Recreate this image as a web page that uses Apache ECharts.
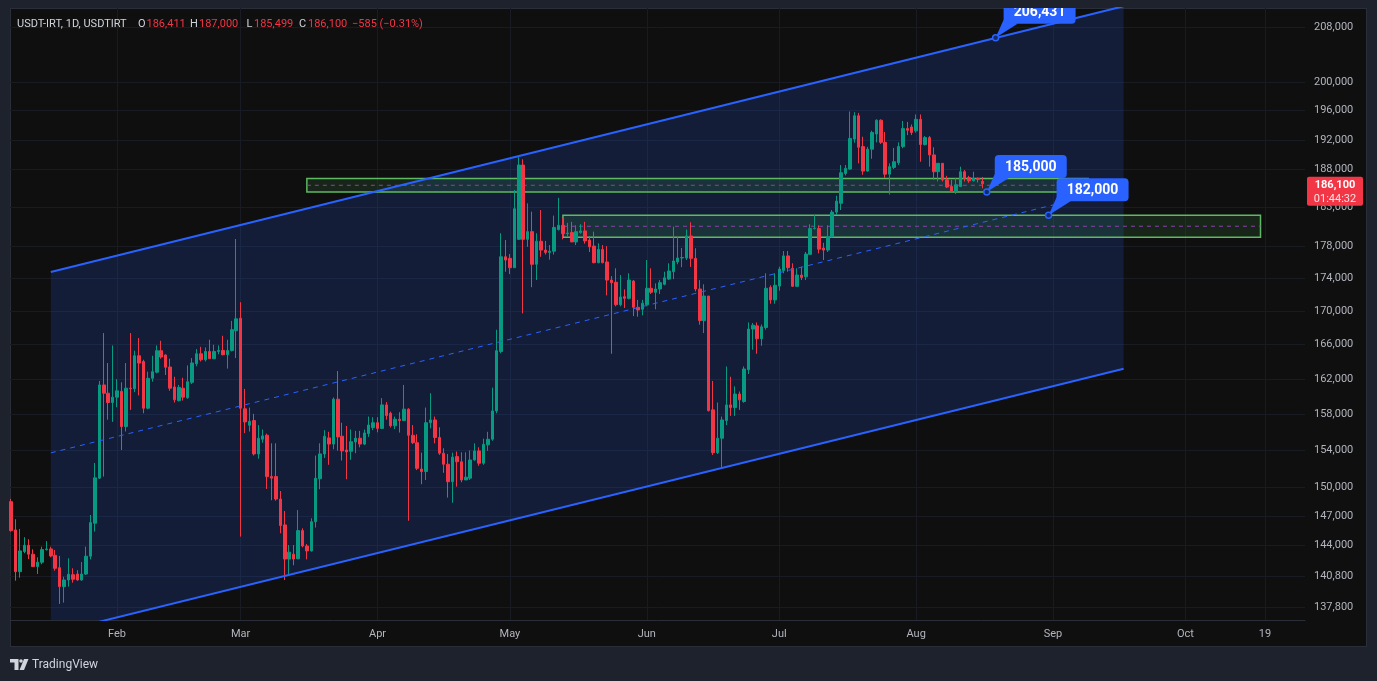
<!DOCTYPE html>
<html><head><meta charset="utf-8">
<script src="https://cdn.jsdelivr.net/npm/echarts@6/dist/echarts.min.js"></script>
<style>
html,body{margin:0;padding:0;background:#1e222d;width:1377px;height:681px;overflow:hidden;}
#panel{position:absolute;left:10px;top:8px;width:1357px;height:639px;background:#0f0f0f;box-sizing:border-box;border:1px solid #2a2e39;}
#chart{position:absolute;left:0;top:0;width:1377px;height:681px;}
</style></head><body>
<div id="panel"></div><div id="chart"></div>
<script>
// ---------------- data ----------------
const startDate = '2025-01-08';   // first daily candle
const openP = [
148500,145550,141300,143330,143970,143060,141810,142250,143530,143600,142950,141700,139810,140470,141000,141060,140470,141060,142860,146250,151000,161330,160390,159330,
159940,160600,156640,160960,160900,164710,164040,158690,162090,162800,165300,164800,163400,161100,159550,160960,159870,161630,163780,164940,164240,165210,164360,165210,165330,164830,165330,167660,
169160,158620,156780,157300,153620,155230,155670,151170,151170,148780,146070,142570,143060,142600,145480,143900,143400,146400,150940,153620,155380,154700,159710,155560,154050,153910,154930,155340,154700,155850,156520,
157060,156430,159060,158120,156720,157450,157300,158580,155670,154850,151980,151710,157060,157370,155420,153700,152500,150620,153330,152770,150810,151000,152960,153950,152610,154620,155230,158380,165210,176700,
176500,175330,178900,188590,178900,179880,175760,178660,177540,177250,177400,180150,180690,179620,179760,178570,179760,179970,178810,178040,175960,177620,176050,173800,173530,170790,171760,171560,173680,170470,170230,
170790,172790,172300,172700,173280,173920,174830,176050,176550,176550,179330,176500,172700,168870,171840,158500,153760,155340,157300,159060,158760,160290,159440,163090,167860,168240,166710,168040,172900,171370,
173060,174990,176810,175260,173030,174420,174210,177000,180270,180270,177800,177540,179230,182390,183540,187460,188050,192100,195300,191080,187780,190720,192790,194680,191650,187370,188270,188900,191080,193530,193750,
193220,194810,191350,192300,189950,187690,188820,186620,185740,185090,185740,187690,186930,186490,186800,186411];
const highP = [
148800,146660,145650,144800,144600,143560,142750,143830,144400,143830,143500,142890,140800,142650,141640,141450,142270,143830,147100,152640,161790,167380,163860,165920,
162000,161630,163860,167380,165300,166790,164240,162860,164710,165920,166470,164880,164360,162270,161330,162150,163580,164440,165490,165760,165680,166590,166000,165920,167060,166590,168840,178940,
171090,160880,158760,158050,156800,156310,155850,154780,154780,149630,147520,144000,144000,147620,145720,144100,146760,153440,154780,156230,156050,159900,162930,157060,156700,156310,156150,156150,156310,157750,157680,
157680,159830,159380,158310,157750,158240,161330,158690,156800,155780,153760,158760,160390,157750,156550,154240,153620,153760,153880,153800,153800,154000,154780,154350,155290,156050,161020,167780,179670,178810,
177040,185290,189630,189360,183530,182450,179670,182660,178700,178170,181940,184250,181590,181000,181140,180690,180830,181140,179330,179880,178390,178170,178040,174290,175260,174420,172660,174640,173800,171370,171370,
176290,175260,173390,173800,174830,175880,180520,179230,177800,180150,181080,177770,173800,173280,171840,161790,159330,157750,163460,162270,161170,160580,163460,168650,168580,168650,168400,174640,173160,174640,
175460,177420,177420,175880,175260,175460,177300,180830,182020,180690,178460,180690,182660,184520,188590,188590,195900,195800,195700,192420,191040,193240,194810,194810,193080,188820,190900,191650,194580,194450,194100,
195480,195480,192510,192510,190980,188820,188820,187150,186620,186840,188370,187920,187150,187690,186930,187000];
const lowP = [
145380,140400,140700,143170,142570,141800,141070,142050,143430,142750,141400,138100,138230,139810,140200,140400,140400,140970,142540,145380,150900,151170,157400,157150,
158800,154050,156080,158500,160500,160130,158120,158570,161700,162670,164360,162470,160660,159330,159440,159550,159750,161440,163480,164040,164040,164360,164320,164880,164760,163210,165210,164440,
144860,155900,156080,153440,153100,154850,149850,148650,148600,145210,140470,140900,141950,142570,143770,142540,143330,145800,149820,153180,152440,154130,153980,152900,150880,152980,153700,154340,154600,155490,156230,
156000,156360,157400,156530,156360,155970,157300,146500,154700,151870,150350,150800,156430,154780,153510,151580,148930,148390,150090,150560,150810,150810,152900,152330,152440,153950,155060,158120,165000,174830,
174540,175330,178810,169740,177950,172920,173800,176700,176980,176330,176980,180020,178900,179230,178570,178170,179620,178350,177300,175880,175880,175880,171920,164940,170590,170590,170390,171430,169410,169340,169500,
170590,172090,170230,172090,173160,173800,173920,175760,175400,176290,175430,172400,168380,167380,158310,153510,153610,152060,156800,157820,157820,158500,159300,162590,165410,164940,165880,167780,170900,170900,
172500,174640,174830,172950,172950,173800,173800,176980,180150,177130,176290,177300,179150,182020,182660,187200,187970,191600,188820,187290,187700,189430,191650,191430,186870,184680,188060,188590,190850,192640,192640,
192970,189030,191220,188370,186620,186400,186400,185530,184880,184760,185660,186400,186230,186400,186270,185499];
const closeP = [
145480,141300,143400,143970,143060,141810,142250,143530,143600,142890,141640,139810,140470,141040,140540,140470,141060,142860,146310,151030,161330,160390,159330,159940,
160660,156640,160960,160900,164710,163850,158690,162090,162860,165300,164560,163370,160960,159630,161050,159940,161700,163860,164940,164240,165210,164360,165210,165330,164830,165330,167780,169080,
158690,157150,157220,153620,155340,155600,151170,151000,148780,146000,142570,143270,142570,145480,143900,143400,146400,150990,153620,155560,154700,159710,155490,153950,153840,154960,155340,154700,155930,156800,157060,
156430,159060,157860,156720,157450,157300,158580,155670,154850,152060,151710,157060,157370,155420,153700,152500,150620,153270,152770,150810,151100,152960,153950,152610,154670,155230,158380,165300,176700,176290,
175330,182830,188590,178900,179880,175760,178660,177540,177250,177400,180420,180690,179620,179700,178570,179880,179970,178700,177950,175960,177620,175960,173800,173480,170790,171720,171560,173800,170470,170150,170970,
172790,172300,172700,173480,174080,174920,176170,176550,176600,179330,176500,172700,168870,171840,158420,153760,155340,157370,159060,158760,160290,159630,163170,167860,168320,166710,168120,172790,171370,173160,
175160,176810,175330,173030,174420,174130,177040,180270,180300,177660,177540,179230,182390,183820,187560,188150,192190,195300,190980,187780,190720,193000,194680,191650,187370,188370,189030,191080,193530,193300,193000,
194810,191350,192300,189950,187690,188820,186620,185660,185090,185960,187690,186800,186490,186800,186685,186100];

// price-axis and time-axis ticks
const priceTicks = [137800,140800,144000,147000,150000,154000,158000,162000,166000,170000,174000,178000,183000,188000,192000,196000,200000,208000];
const timeTickDates = ['2025-02-01','2025-03-01','2025-04-01','2025-05-01','2025-06-01','2025-07-01','2025-08-01','2025-09-01','2025-10-01','2025-10-19'];
const timeTickLabels = ['Feb','Mar','Apr','May','Jun','Jul','Aug','Sep','Oct','19'];

// parallel channel (drawn with its two anchors in date/price)
const channelDates = ['2025-01-17','2025-09-17'];
const channelUpper = [174800, 211100];
const channelMid   = [153735, 185605];
const channelLower = [135210, 163190];

// rectangles (zones)
const zoneStart  = ['2025-03-16','2025-05-13'];
const zoneEnd    = ['2025-09-09','2025-10-18'];
const zoneTop    = [186800, 182000];
const zoneBottom = [185000, 179150];

// price notes
const noteDates  = ['2025-08-19','2025-08-17','2025-08-31'];
const notePrices = [206431, 185000, 182000];
const noteLabels = ['206,431','185,000','182,000'];

const countdown = '01:44:32';

// ---------------- chart ----------------
const DAY = 86400000;
const t = s => Date.parse(s + 'T00:00:00Z');
const t0 = t(startDate);
const candles = openP.map((o, i) => [t0 + i * DAY, o, closeP[i], lowP[i], highP[i]]);
const feb1 = t('2025-02-01');
const xMin = feb1 - 24.24 * DAY, xMax = feb1 + 269.08 * DAY;
const tickTimes = timeTickDates.map(t);
const tickLabelMap = {};
tickTimes.forEach((v, i) => tickLabelMap[v] = timeTickLabels[i]);
const fmt = v => v.toLocaleString('en-US');

const FONT = 'Roboto, "Liberation Sans", Arial, sans-serif';
const AXC = '#b2b5be';
const GRIDC = '#181b22';

const chart = echarts.init(document.getElementById('chart'), null, {width:1377, height:681});

const lastT = candles[candles.length - 1][0];
const lastClose = closeP[closeP.length - 1];

const header = [
  {x:17, text:'USDT-IRT, 1D, USDTIRT', c:'#d1d4dc'},
  {x:138, text:'O', c:'#d1d4dc'}, {x:146.5, text:fmt(openP[openP.length-1]), c:'#f23645'},
  {x:190, text:'H', c:'#d1d4dc'}, {x:199, text:fmt(highP[highP.length-1]), c:'#f23645'},
  {x:246.5, text:'L', c:'#d1d4dc'}, {x:254, text:fmt(lowP[lowP.length-1]), c:'#f23645'},
  {x:299, text:'C', c:'#d1d4dc'}, {x:308, text:fmt(lastClose), c:'#f23645'},
  {x:352, text:'\u2212585 (\u22120.31%)', c:'#f23645'}
];

const option = {
  backgroundColor: 'transparent',
  animation: false,
  textStyle: {fontFamily: FONT},
  grid: {left: 10, right: 72, top: 8, bottom: 61, containLabel: false},
  xAxis: {
    type: 'value', min: xMin, max: xMax, scale: true,
    axisLine: {show: true, onZero: false, lineStyle: {color: '#2a2e39'}},
    axisTick: {show: false, customValues: tickTimes},
    splitLine: {show: true, lineStyle: {color: GRIDC, width: 1}},
    axisLabel: {customValues: tickTimes, color: AXC, fontSize: 11, fontFamily: FONT, margin: 9,
      formatter: v => tickLabelMap[v] || ''}
  },
  yAxis: {
    type: 'log', logBase: 10, position: 'right', min: 136535, max: 210830,
    axisLine: {show: false},
    axisTick: {show: false, customValues: priceTicks},
    splitLine: {show: true, lineStyle: {color: GRIDC, width: 1}},
    axisLabel: {customValues: priceTicks, color: AXC, fontSize: 11, fontFamily: FONT, margin: 9,
      formatter: v => fmt(Math.round(v))}
  },
  graphic: [
    ...header.map(h => ({type:'text', x: h.x, y: 24.5, z: 100,
      style: {text: h.text, fill: h.c, font: '11px ' + FONT, verticalAlign: 'middle', align: 'left'}})),
    {type:'polygon', shape:{points:[[10,659],[18.5,659],[18.5,670],[14.5,670],[14.5,662.5],[10,662.5]]}, style:{fill:'#d1d4dc'}},
    {type:'circle', shape:{cx:21, cy:661, r:1.8}, style:{fill:'#d1d4dc'}},
    {type:'polygon', shape:{points:[[24,659],[28.5,659],[24,670],[19.5,670]]}, style:{fill:'#d1d4dc'}},
    {type:'text', x:32, y:664.5, style:{text:'TradingView', fill:'#d1d4dc', font:'12px ' + FONT, verticalAlign:'middle'}}
  ],
  series: [
    { // channel background
      type: 'custom', name: 'channelFill', z: 1, silent: true, clip: true,
      data: [[t(channelDates[0]), channelUpper[0]]],
      renderItem: (params, api) => {
        const a = api.coord([t(channelDates[0]), channelUpper[0]]);
        const b = api.coord([t(channelDates[1]), channelUpper[1]]);
        const c = api.coord([t(channelDates[1]), channelLower[1]]);
        const d = api.coord([t(channelDates[0]), channelLower[0]]);
        return {type:'polygon', shape:{points:[a,b,c,d]}, style:{fill:'rgba(41,98,255,0.17)'}};
      }
    },
    { // zones
      type: 'custom', name: 'zones', z: 2, silent: true, clip: true,
      data: zoneStart.map((s, i) => [t(s), zoneTop[i], t(zoneEnd[i]), zoneBottom[i]]),
      encode: {x: [0, 2], y: [1, 3]},
      renderItem: (params, api) => {
        const p1 = api.coord([api.value(0), api.value(1)]);
        const p2 = api.coord([api.value(2), api.value(3)]);
        const midY = (p1[1] + p2[1]) / 2;
        return {type:'group', children:[
          {type:'rect', shape:{x:p1[0], y:p1[1], width:p2[0]-p1[0], height:p2[1]-p1[1]},
           style:{fill:'rgba(76,175,80,0.15)', stroke:'#5fb862', lineWidth:1.5}},
          {type:'line', shape:{x1:p1[0], y1:midY, x2:p2[0], y2:midY},
           style:{stroke:'#8e3fb0', lineWidth:1, lineDash:[4,4]}}
        ]};
      }
    },
    { type:'line', name:'channelUpper', z:4, silent:true, symbol:'none',
      data: channelDates.map((d,i)=>[t(d), channelUpper[i]]), lineStyle:{color:'#2962ff', width:2} },
    { type:'line', name:'channelLower', z:4, silent:true, symbol:'none',
      data: channelDates.map((d,i)=>[t(d), channelLower[i]]), lineStyle:{color:'#2962ff', width:2} },
    { type:'line', name:'channelMid', z:4, silent:true, symbol:'none',
      data: channelDates.map((d,i)=>[t(d), channelMid[i]]), lineStyle:{color:'#2962ff', width:1, type:[5,5]} },
    {
      type: 'candlestick', name: 'USDT-IRT', z: 3, barWidth: 3,
      data: candles,
      itemStyle: {color:'#089981', color0:'#f23645', borderColor:'#089981', borderColor0:'#f23645', borderWidth:1}
    },
    { // price notes
      type: 'custom', name: 'notes', z: 6, silent: true, clip: true,
      data: noteDates.map((d,i)=>[t(d), notePrices[i]]),
      renderItem: (params, api) => {
        const c = api.coord([api.value(0), api.value(1)]);
        const i = params.dataIndex;
        const bx = c[0] + 8, bb = c[1] - 14, bw = 72, bh = 23;
        return {type:'group', children:[
          {type:'polygon', shape:{points:[[c[0],c[1]],[bx,bb-4],[bx+14,bb]]}, style:{fill:'#2962ff'}},
          {type:'rect', shape:{x:bx, y:bb-bh, width:bw, height:bh, r:4}, style:{fill:'#2962ff'}},
          {type:'text', style:{text:noteLabels[i], x:bx+bw/2, y:bb-bh/2+0.5, align:'center', verticalAlign:'middle',
            fill:'#ffffff', font:'bold 14px ' + FONT}},
          {type:'circle', shape:{cx:c[0], cy:c[1], r:3}, style:{fill:'#142a6e', stroke:'#2962ff', lineWidth:1.5}}
        ]};
      }
    },
    { // last price label on the price scale
      type: 'custom', name: 'lastPrice', z: 10, silent: true, clip: false,
      data: [[lastT, lastClose]],
      renderItem: (params, api) => {
        const cs = params.coordSys;
        const c = api.coord([api.value(0), api.value(1)]);
        const x = cs.x + cs.width + 2;
        return {type:'group', children:[
          {type:'rect', shape:{x:x, y:c[1]-7, width:56, height:29, r:2}, style:{fill:'#f23645'}},
          {type:'text', style:{text:fmt(lastClose), x:x+28, y:c[1]+1.5, align:'center', verticalAlign:'middle',
            fill:'#ffffff', font:'bold 11px ' + FONT}},
          {type:'text', style:{text:countdown, x:x+28, y:c[1]+15.5, align:'center', verticalAlign:'middle',
            fill:'#fde3e6', font:'11px ' + FONT}}
        ]};
      }
    }
  ]
};
chart.setOption(option);
</script></body></html>
